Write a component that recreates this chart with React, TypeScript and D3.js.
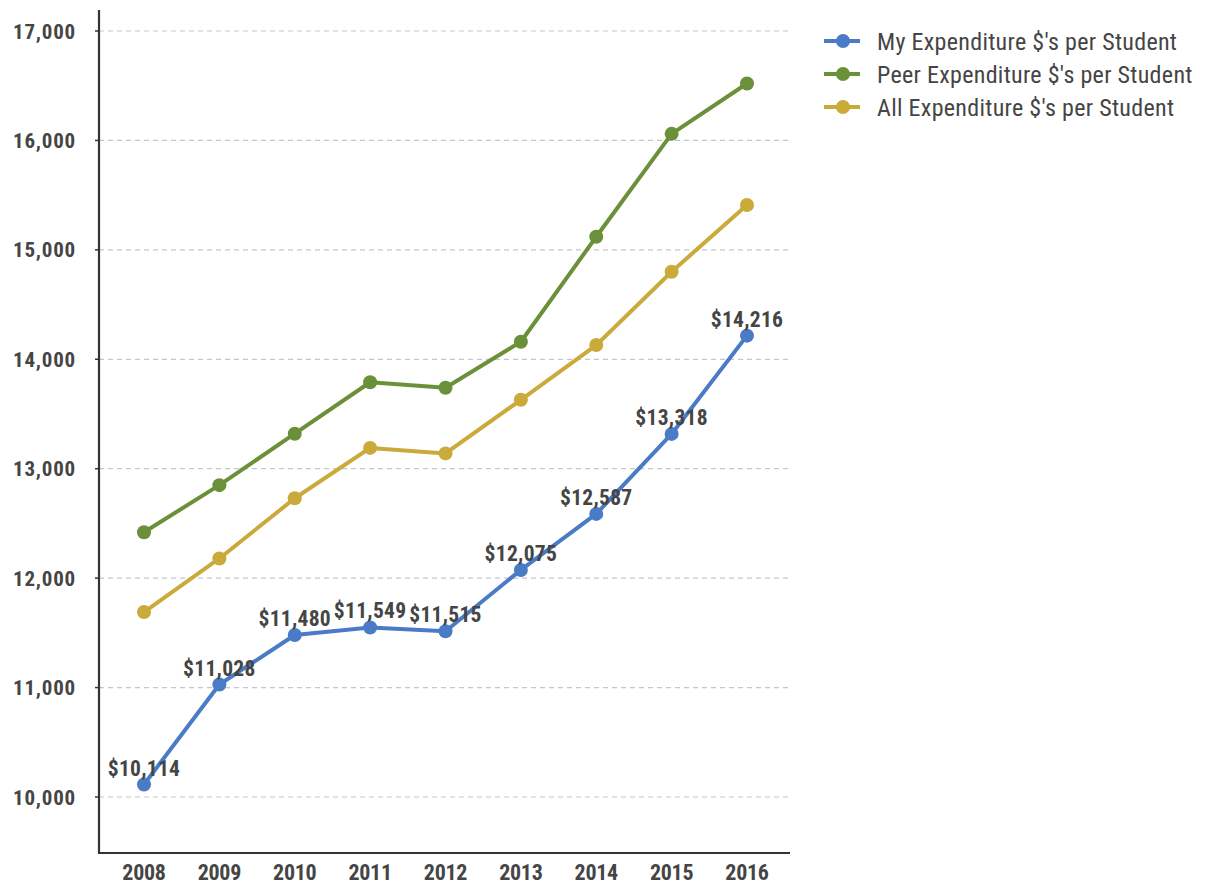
import React from "react";
import * as d3 from "d3";

const years = ["2008", "2009", "2010", "2011", "2012", "2013", "2014", "2015", "2016"];
const myValues = [10114, 11028, 11480, 11549, 11515, 12075, 12587, 13318, 14216];
const peerValues = [12420, 12850, 13320, 13790, 13740, 14160, 15120, 16060, 16520];
const allValues = [11690, 12180, 12730, 13190, 13140, 13630, 14130, 14800, 15410];
const yTicks = [10000, 11000, 12000, 13000, 14000, 15000, 16000, 17000];
const seriesNames = [
  "My Expenditure $'s per Student",
  "Peer Expenditure $'s per Student",
  "All Expenditure $'s per Student",
];
const seriesColors = ["#4a7bc6", "#6a9139", "#c9aa3a"];

const FONT = "'Roboto Condensed', 'Liberation Sans Narrow', 'Arial Narrow', sans-serif";

export default function App() {
  const x = d3.scalePoint<string>().domain(years).range([144, 747]);
  const y = d3.scaleLinear().domain([10000, 17000]).range([797, 31]);
  const line = d3
    .line<number>()
    .x((_, i) => x(years[i]) as number)
    .y((d) => y(d));
  const fmt = d3.format(",");
  const series = [myValues, peerValues, allValues];
  const drawOrder = [2, 1, 0];

  return (
    <svg width={1206} height={890} style={{ position: "absolute", left: 0, top: 0, background: "#fff" }}>
      <rect width={1206} height={890} fill="#fff" />
      {yTicks.map((t) => (
        <g key={t}>
          <line x1={99} x2={790} y1={y(t)} y2={y(t)} stroke="#c3c6cf" strokeWidth={1.2} strokeDasharray="5,4" />
          <line x1={95} x2={99} y1={y(t)} y2={y(t)} stroke="#333" strokeWidth={1.5} />
          <text x={76} y={y(t)} dy="0.36em" textAnchor="end" fontFamily={FONT} fontSize={21} fontWeight="bold" fill="#454545" letterSpacing={0.8}>
            {fmt(t)}
          </text>
        </g>
      ))}
      <line x1={99} x2={99} y1={10} y2={854} stroke="#333" strokeWidth={2.2} />
      <line x1={98} x2={790} y1={853} y2={853} stroke="#333" strokeWidth={2.2} />
      {years.map((yr) => (
        <text key={yr} x={x(yr) as number} y={880} textAnchor="middle" fontFamily={FONT} fontSize={22} fontWeight="bold" fill="#454545" letterSpacing={-0.3}>
          {yr}
        </text>
      ))}
      {drawOrder.map((si) => (
        <g key={si}>
          <path d={line(series[si]) || ""} fill="none" stroke={seriesColors[si]} strokeWidth={4} strokeLinejoin="round" />
          {series[si].map((v, i) => (
            <circle key={i} cx={x(years[i]) as number} cy={y(v)} r={7} fill={seriesColors[si]} />
          ))}
        </g>
      ))}
      {myValues.map((v, i) => (
        <text key={i} x={x(years[i]) as number} y={y(v) - 9} textAnchor="middle" fontFamily={FONT} fontSize={21.5} fontWeight="bold" fill="#454545" letterSpacing={0.3}>
          {"$" + fmt(v)}
        </text>
      ))}
      {seriesNames.map((name, i) => (
        <g key={name} transform={`translate(0, ${41 + i * 33})`}>
          <line x1={824} x2={860} y1={0} y2={0} stroke={seriesColors[i]} strokeWidth={4} />
          <circle cx={843} cy={0} r={7} fill={seriesColors[i]} />
          <text x={877} y={0} dy="0.36em" fontFamily={FONT} fontSize={24} fill="#454545" letterSpacing={0.3}>
            {name}
          </text>
        </g>
      ))}
    </svg>
  );
}
